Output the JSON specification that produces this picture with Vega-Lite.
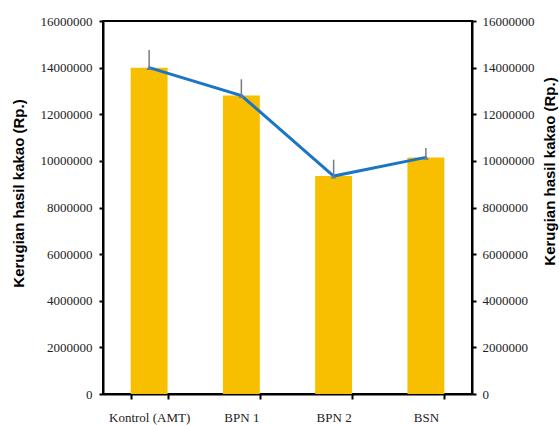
{
  "$schema": "https://vega.github.io/schema/vega-lite/v6.json",
  "autosize": "none",
  "width": 369,
  "height": 373,
  "padding": {"left": 103, "top": 21, "right": 87, "bottom": 31},
  "background": "white",
  "config": {
    "view": {"stroke": "black", "strokeWidth": 2},
    "axis": {
      "labelFont": "Liberation Serif",
      "labelFontSize": 13,
      "labelColor": "#222",
      "titleFont": "Liberation Sans",
      "titleFontWeight": "bold",
      "titleFontSize": 15,
      "titleColor": "black",
      "domainColor": "black",
      "domainWidth": 2,
      "tickColor": "black",
      "tickWidth": 2,
      "tickSize": 4,
      "grid": false
    }
  },
  "data": {
    "values": [
      {"perlakuan": "Kontrol (AMT)", "nilai": 14000000, "atas": 14760000},
      {"perlakuan": "BPN 1", "nilai": 12800000, "atas": 13500000},
      {"perlakuan": "BPN 2", "nilai": 9350000, "atas": 10050000},
      {"perlakuan": "BSN", "nilai": 10150000, "atas": 10550000}
    ]
  },
  "encoding": {
    "x": {
      "field": "perlakuan",
      "type": "nominal",
      "sort": null,
      "scale": {"paddingInner": 0.6, "paddingOuter": 0.3},
      "axis": {"title": null, "labelAngle": 0, "labelPadding": 12, "tickBand": "extent", "tickSize": 5}
    }
  },
  "layer": [
    {
      "mark": {"type": "bar", "color": "#F8BE00"},
      "encoding": {
        "y": {
          "field": "nilai",
          "type": "quantitative",
          "scale": {"domain": [0, 16000000], "nice": false},
          "axis": {"title": "Kerugian hasil kakao (Rp.)", "titleY": 172, "format": "d", "values": [0, 2000000, 4000000, 6000000, 8000000, 10000000, 12000000, 14000000, 16000000], "labelPadding": 7, "titlePadding": 14}
        }
      }
    },
    {
      "layer": [
        {
          "mark": {"type": "rule", "color": "#7a7a7a", "strokeWidth": 1.5},
          "encoding": {
            "y": {
              "field": "nilai",
              "type": "quantitative",
              "scale": {"domain": [0, 16000000], "nice": false},
              "axis": {"orient": "right", "title": "Kerugian hasil kakao (Rp.)", "titleAngle": 270, "titleBaseline": "bottom", "titleY": 150, "format": "d", "values": [0, 2000000, 4000000, 6000000, 8000000, 10000000, 12000000, 14000000, 16000000], "labelPadding": 6, "titlePadding": 23}
            },
            "y2": {"field": "atas"}
          }
        },
        {
          "mark": {"type": "line", "color": "#1B75C6", "strokeWidth": 3},
          "encoding": {"y": {"field": "nilai", "type": "quantitative"}}
        },
        {
          "mark": {"type": "point", "shape": "triangle-up", "filled": true, "size": 30, "color": "#5A7FA8", "opacity": 1},
          "encoding": {"y": {"field": "nilai", "type": "quantitative"}}
        }
      ]
    }
  ],
  "resolve": {"scale": {"y": "independent"}}
}
